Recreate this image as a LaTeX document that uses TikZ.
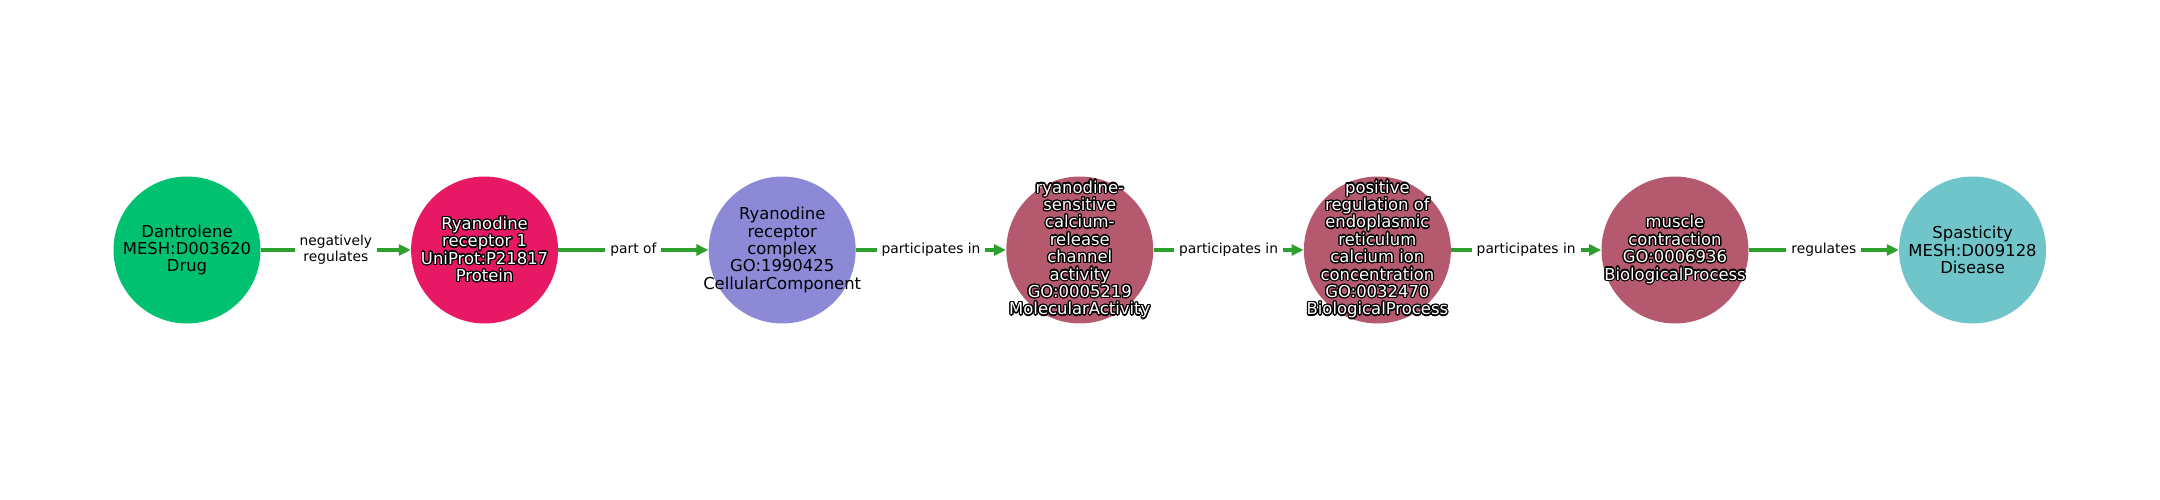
\documentclass[tikz,border=0pt]{standalone}
\usepackage{fontspec}
\setmainfont{DejaVu Sans}
\usepackage[copies]{contour}
\contourlength{0.7pt}
\usetikzlibrary{positioning,arrows.meta}

\definecolor{drug-green}{RGB}{0,193,112}
\definecolor{protein-red}{RGB}{232,25,100}
\definecolor{component-purple}{RGB}{140,137,215}
\definecolor{process-maroon}{RGB}{181,89,110}
\definecolor{disease-teal}{RGB}{112,197,202}
\definecolor{edge-green}{RGB}{44,160,44}

\newcommand{\wline}[1]{\contour{black}{#1}}

\begin{document}
\begin{tikzpicture}[
        x=0.02cm, y=0.02cm,
        node distance=2.999cm,
        every node/.style={align=center, font=\fontsize{9.35}{9.9}\selectfont},
        entity/.style={shape=circle, minimum size=2.94cm, inner sep=0pt},
        dark text/.style={text=black, inner sep=0pt},
        light text/.style={text=white, inner sep=0pt},
        relation/.style={draw=edge-green, line width=2.3pt, -{Triangle[length=0.24cm, width=0.22cm]}},
        rel label/.style={fill=white, inner sep=0.1cm, text=black, font=\fontsize{7.86}{8.9}\selectfont},
    ]
    \useasboundingbox (0,0) rectangle (2160,500);

    \node[entity, fill=drug-green, label={[dark text]center:{Dantrolene\\MESH:D003620\\Drug}}] (dantrolene) at (187,250) {};
    \node[entity, fill=protein-red, right=of dantrolene,
        label={[light text]center:{\wline{Ryanodine}\\\wline{receptor 1}\\\wline{UniProt:P21817}\\\wline{Protein}}}] (ryr1) {};
    \node[entity, fill=component-purple, right=of ryr1,
        label={[dark text]center:{Ryanodine\\receptor\\complex\\GO:1990425\\CellularComponent}}] (complex) {};
    \node[entity, fill=process-maroon, right=of complex,
        label={[light text]center:{\wline{ryanodine-}\\\wline{sensitive}\\\wline{calcium-}\\\wline{release}\\\wline{channel}\\\wline{activity}\\\wline{GO:0005219}\\\wline{MolecularActivity}}}] (channel) {};
    \node[entity, fill=process-maroon, right=of channel,
        label={[light text]center:{\wline{positive}\\\wline{regulation of}\\\wline{endoplasmic}\\\wline{reticulum}\\\wline{calcium ion}\\\wline{concentration}\\\wline{GO:0032470}\\\wline{BiologicalProcess}}}] (regulation) {};
    \node[entity, fill=process-maroon, right=of regulation,
        label={[light text]center:{\wline{muscle}\\\wline{contraction}\\\wline{GO:0006936}\\\wline{BiologicalProcess}}}] (contraction) {};
    \node[entity, fill=disease-teal, right=of contraction,
        label={[dark text]center:{Spasticity\\MESH:D009128\\Disease}}] (spasticity) {};

    \draw[relation] (dantrolene) -- node[rel label] {negatively\\regulates} (ryr1);
    \draw[relation] (ryr1) -- node[rel label] {part of} (complex);
    \draw[relation] (complex) -- node[rel label] {participates in} (channel);
    \draw[relation] (channel) -- node[rel label] {participates in} (regulation);
    \draw[relation] (regulation) -- node[rel label] {participates in} (contraction);
    \draw[relation] (contraction) -- node[rel label] {regulates} (spasticity);
\end{tikzpicture}
\end{document}
